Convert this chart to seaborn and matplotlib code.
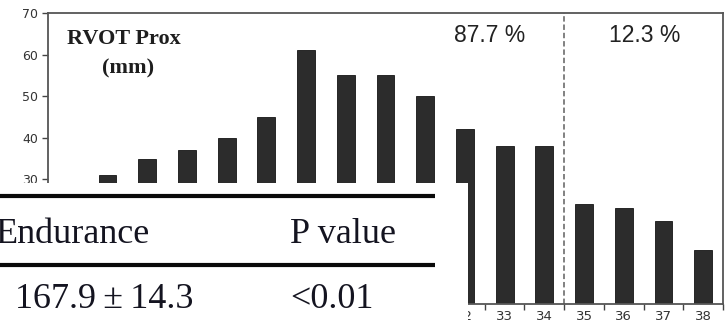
import matplotlib
matplotlib.use("Agg")
import numpy as np
import pandas as pd
import matplotlib.pyplot as plt
import seaborn as sns
from matplotlib.patches import Rectangle
from matplotlib.lines import Line2D
from matplotlib.ticker import FixedLocator

# RVOT proximal diameter (mm) distribution
categories = ["23", "24", "25", "26", "27", "28", "29", "30",
              "31", "32", "33", "34", "35", "36", "37", "38"]
values = [31, 35, 37, 40, 45, 61, 55, 55, 50, 42, 38, 38, 24, 23, 20, 13]
y_ticks = [0, 10, 20, 30, 40, 50, 60, 70]
share_labels = ["87.7 %", "12.3 %"]
cutoff_after = "34"

# table excerpt
table_header = ["Endurance", "P value"]
table_row = ["167.9\u2009\u00b1\u200914.3", "<0.01"]

sns.set_theme(style="ticks")
plt.rcParams["font.family"] = ["DejaVu Sans"]

W, H = 726, 329
fig = plt.figure(figsize=(W / 100, H / 100), dpi=100)
ax = fig.add_axes([48 / W, 25 / H, 675 / W, 291 / H])

df = pd.DataFrame({"size": categories, "count": values})
sns.barplot(data=df, x="size", y="count", color="#2c2c2c", width=0.45,
            saturation=1, edgecolor="#151515", linewidth=0.6, ax=ax)

n = len(categories)
ax.set_xlim(-1.5, n - 0.5)
ax.set_ylim(0, 70)
ax.set_yticks(y_ticks)
ax.set_xlabel("")
ax.set_ylabel("")

# ticks between categories, labels centred under bars
ax.xaxis.set_minor_locator(FixedLocator(np.arange(-1.5, n, 1.0)))
ax.tick_params(axis="x", which="major", length=0, pad=4, labelsize=9.5,
               labelcolor="#333333")
ax.tick_params(axis="x", which="minor", length=4, width=1, color="#444444",
               direction="out")
ax.tick_params(axis="y", length=4, width=1, color="#444444", direction="out",
               labelsize=9, labelcolor="#333333", pad=3)

for s in ax.spines.values():
    s.set_visible(True)
    s.set_color("#555555")
    s.set_linewidth(1.3)

# cut-off between the two groups
cut = categories.index(cutoff_after) + 0.5
ax.axvline(cut, color="#777777", lw=1.3, ls=(0, (3, 1.6)))

ax.text(9.63, 64.7, share_labels[0], ha="center", va="center",
        fontsize=16.5, family="Liberation Sans", color="#222222")
ax.text(13.54, 64.7, share_labels[1], ha="center", va="center",
        fontsize=16.5, family="Liberation Sans", color="#222222")

ax.text(0.028, 0.893, "RVOT Prox", transform=ax.transAxes, ha="left",
        va="baseline", fontsize=16, fontweight="bold",
        family="Liberation Serif", color="#1e1e1e")
ax.text(0.1185, 0.811, "(mm)", transform=ax.transAxes, ha="center",
        va="center", fontsize=16, fontweight="bold",
        family="Liberation Serif", color="#1e1e1e")

# table excerpt laid over the lower-left corner
fig.add_artist(Rectangle((0, 0), 468 / W, 146 / H, transform=fig.transFigure,
                         facecolor="white", edgecolor="none", zorder=10))
for yp in (196, 265):
    fig.add_artist(Line2D([0, 435 / W], [1 - yp / H, 1 - yp / H],
                          transform=fig.transFigure, color="#0a0a0a",
                          lw=3.0, zorder=11, solid_capstyle="butt"))

tkw = dict(fontsize=26, family="Liberation Serif", color="#141420",
           va="baseline", ha="left", zorder=12)
fig.text(-4 / W, 1 - 243 / H, table_header[0], **tkw)
fig.text(290 / W, 1 - 243 / H, table_header[1], **tkw)
fig.text(15 / W, 1 - 308 / H, table_row[0], **tkw)
fig.text(290 / W, 1 - 308 / H, table_row[1], **tkw)

fig.savefig("out.png", dpi=100)
